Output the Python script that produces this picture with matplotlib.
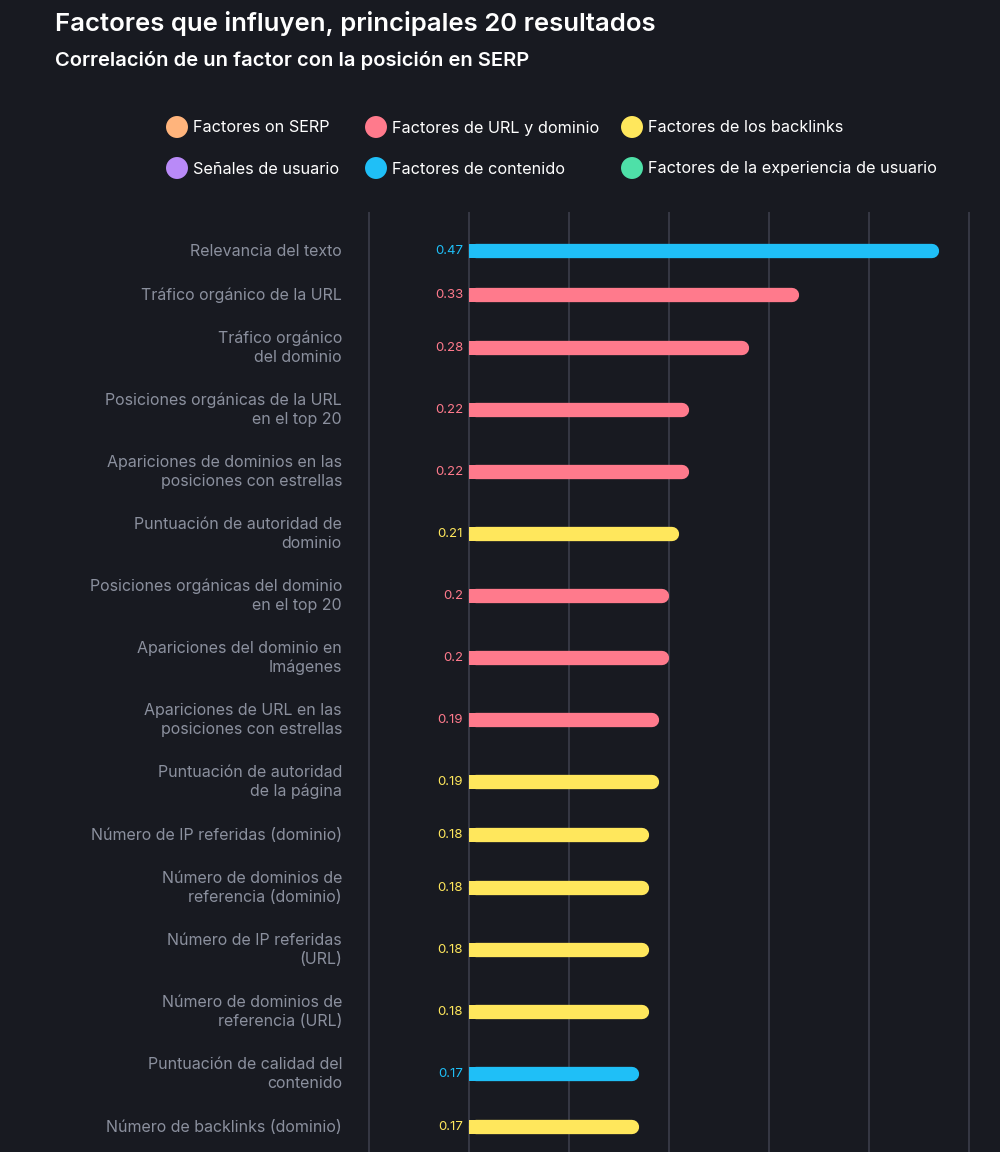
import numpy as np
import matplotlib.pyplot as plt

plt.rcParams['font.family'] = ['Inter', 'DejaVu Sans']

labels = [
    'Relevancia del texto',
    'Tráfico orgánico de la URL',
    'Tráfico orgánico\ndel dominio',
    'Posiciones orgánicas de la URL\nen el top 20',
    'Apariciones de dominios en las\nposiciones con estrellas',
    'Puntuación de autoridad de\ndominio',
    'Posiciones orgánicas del dominio\nen el top 20',
    'Apariciones del dominio en\nImágenes',
    'Apariciones de URL en las\nposiciones con estrellas',
    'Puntuación de autoridad\nde la página',
    'Número de IP referidas (dominio)',
    'Número de dominios de\nreferencia (dominio)',
    'Número de IP referidas\n(URL)',
    'Número de dominios de\nreferencia (URL)',
    'Puntuación de calidad del\ncontenido',
    'Número de backlinks (dominio)',
]
values = [0.47, 0.33, 0.28, 0.22, 0.22, 0.21, 0.2, 0.2, 0.19, 0.19,
          0.18, 0.18, 0.18, 0.18, 0.17, 0.17]
groups = ['cont', 'url', 'url', 'url', 'url', 'bl', 'url', 'url', 'url', 'bl',
          'bl', 'bl', 'bl', 'bl', 'cont', 'bl']

legend_names = ['Factores on SERP', 'Factores de URL y dominio', 'Factores de los backlinks',
                'Señales de usuario', 'Factores de contenido', 'Factores de la experiencia de usuario']
legend_keys = ['serp', 'url', 'bl', 'user', 'cont', 'ux']

colors = {'serp': '#ffb47c', 'url': '#ff7a8c', 'bl': '#ffe75c',
          'user': '#b98af8', 'cont': '#1fbff7', 'ux': '#4ee0a8'}
bg = '#181a21'

W, H = 1000, 1152
fig = plt.figure(figsize=(W / 100, H / 100), dpi=100, facecolor=bg)

# row positions (px-like units), taller rows for two-line labels
heights = [62 if '\n' in l else 44 for l in labels]
ypos = [0.0]
for i in range(1, len(labels)):
    ypos.append(ypos[-1] + (heights[i - 1] + heights[i]) / 2)
ypos = np.array(ypos)

ax = fig.add_axes([360 / W, 0, 618 / W, 1 - 212 / H])
ax.set_facecolor(bg)
ax.set_xlim(-0.109, 0.509)
ax.set_ylim(H - 251, -(251 - 212))
ax.set_xticks(np.arange(-0.1, 0.51, 0.1))
ax.set_yticks([])
ax.tick_params(length=0, labelbottom=False)
ax.grid(axis='x', color='#3b3e4b', lw=1.2)
ax.set_axisbelow(True)
for s in ax.spines.values():
    s.set_visible(False)

r = 0.007
for y, v, g, lab in zip(ypos, values, groups, labels):
    c = colors[g]
    ax.plot([r, v - r], [y, y], color=c, lw=10.3, solid_capstyle='round', zorder=3)
    ax.barh(y, 0.012, height=14, left=0, color=c, zorder=3)
    ax.text(-0.006, y, f'{v:g}', ha='right', va='center', color=c, fontsize=9.5)
    ax.text(-0.127, y, lab, ha='right', va='center', color='#8b909e',
            fontsize=11.5, linespacing=1.35)

# title
fig.text(55 / W, 1 - 23 / H, 'Factores que influyen, principales 20 resultados',
         color='white', fontsize=18.5, fontweight='semibold', va='center')
fig.text(55 / W, 1 - 60 / H, 'Correlación de un factor con la posición en SERP',
         color='white', fontsize=14.5, fontweight='semibold', va='center')

# legend
lax = fig.add_axes([0, 0, 1, 1])
lax.set_xlim(0, W)
lax.set_ylim(H, 0)
lax.axis('off')
col_x = [177, 376, 632]
row_y = [127, 168]
for i, (name, key) in enumerate(zip(legend_names, legend_keys)):
    x = col_x[i % 3]
    y = row_y[i // 3]
    lax.scatter([x], [y], s=250, color=colors[key], edgecolors='none')
    lax.text(x + 16, y + 1, name, color='white', fontsize=11.7, va='center')

fig.savefig('out.png', dpi=100, facecolor=bg)
